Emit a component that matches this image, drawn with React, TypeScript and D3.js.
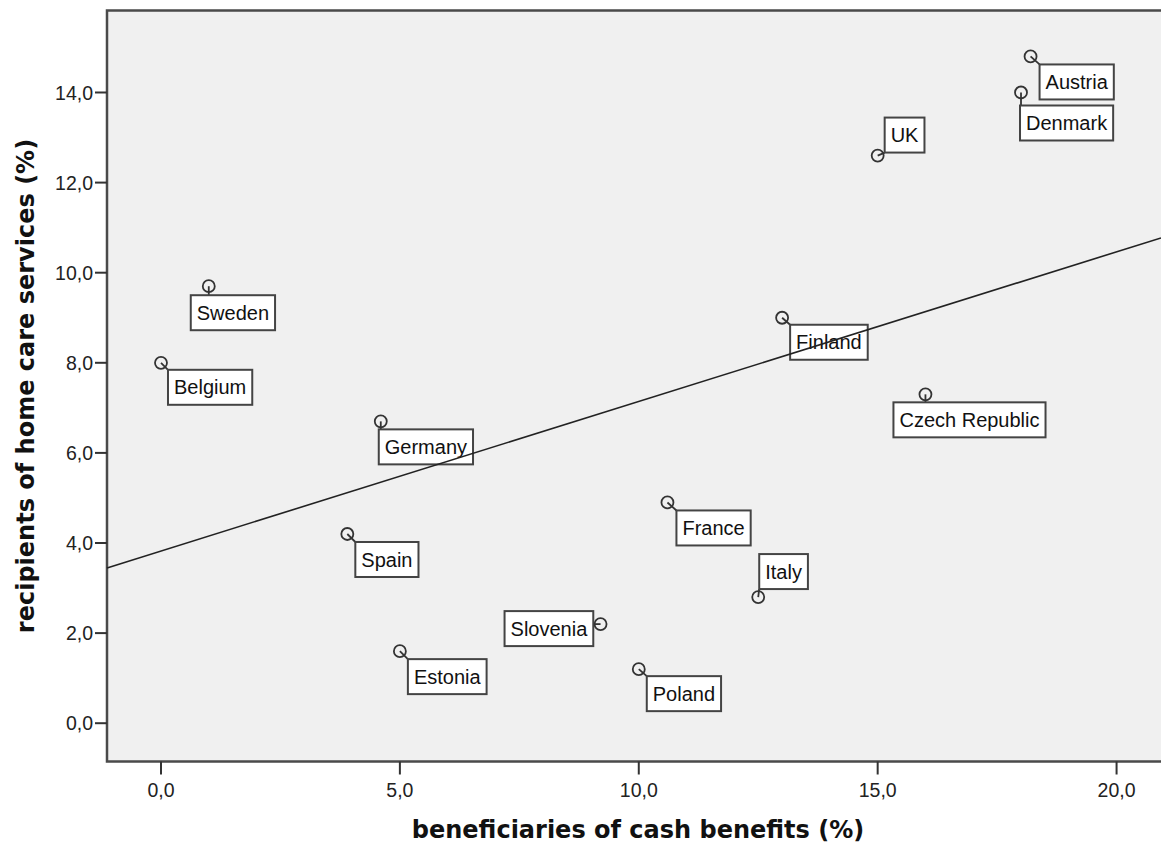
import React, { useEffect, useRef } from 'react';
import * as d3 from 'd3';

// values
const countries = ['Austria', 'Denmark', 'UK', 'Sweden', 'Finland', 'Belgium', 'Czech Republic', 'Germany', 'France', 'Spain', 'Italy', 'Slovenia', 'Estonia', 'Poland'];
const cashBenefits = [18.2, 18.0, 15.0, 1.0, 13.0, 0.0, 16.0, 4.6, 10.6, 3.9, 12.5, 9.2, 5.0, 10.0];
const homeCare = [14.8, 14.0, 12.6, 9.7, 9.0, 8.0, 7.3, 6.7, 4.9, 4.2, 2.8, 2.2, 1.6, 1.2];
const xTicks = [0, 5, 10, 15, 20];
const yTicks = [0, 2, 4, 6, 8, 10, 12, 14];

// label box placement (top-left corner offset from the marker, px)
const labelOffsets: [number, number][] = [
  [9, 8], [-1, 13], [7, -38], [-18, 9], [8, 7], [7, 7], [-32, 8],
  [-2, 8], [9, 8], [8, 8], [1, -43], [-96, -13], [8, 8], [8, 7],
];

const App = () => {
  const ref = useRef<SVGSVGElement>(null);

  useEffect(() => {
    const svg = d3.select(ref.current);
    svg.selectAll('*').remove();

    const W = 1161;
    const left = 107, top = 10.5, bottom = 761.5, right = W + 5;

    const x = d3.scaleLinear().domain([-1.13, 20.93]).range([left, W]);
    const y = d3.scaleLinear().domain([-0.85, 15.82]).range([bottom, top]);
    const fmt = (v: number) => d3.format('.1f')(v).replace('.', ',');

    const data = countries.map((name, i) => ({ name, cx: cashBenefits[i], hc: homeCare[i], off: labelOffsets[i] }));

    // least-squares fit line
    const mx = d3.mean(data, d => d.cx)!;
    const my = d3.mean(data, d => d.hc)!;
    const slope = d3.sum(data, d => (d.cx - mx) * (d.hc - my)) / d3.sum(data, d => (d.cx - mx) ** 2);
    const icpt = my - slope * mx;

    svg.append('rect')
      .attr('x', left).attr('y', top)
      .attr('width', right - left).attr('height', bottom - top)
      .attr('fill', '#f0f0f0')
      .attr('stroke', '#4a4a4a').attr('stroke-width', 2.5);

    // y axis
    const ya = svg.append('g');
    yTicks.forEach(t => {
      ya.append('line').attr('x1', left - 12).attr('x2', left).attr('y1', y(t)).attr('y2', y(t))
        .attr('stroke', '#333').attr('stroke-width', 2);
      ya.append('text').attr('x', left - 14).attr('y', y(t)).attr('dy', '0.36em')
        .attr('text-anchor', 'end')
        .style('font-family', '"Liberation Sans", Arial, sans-serif').style('font-size', '19.5px')
        .attr('fill', '#222').text(fmt(t));
    });

    // x axis
    const xa = svg.append('g');
    xTicks.forEach(t => {
      xa.append('line').attr('x1', x(t)).attr('x2', x(t)).attr('y1', bottom).attr('y2', bottom + 13)
        .attr('stroke', '#333').attr('stroke-width', 2);
      xa.append('text').attr('x', x(t)).attr('y', bottom + 28).attr('dy', '0.36em')
        .attr('text-anchor', 'middle')
        .style('font-family', '"Liberation Sans", Arial, sans-serif').style('font-size', '19.5px')
        .attr('fill', '#222').text(fmt(t));
    });

    // axis titles
    svg.append('text')
      .attr('x', 638).attr('y', 838)
      .attr('text-anchor', 'middle')
      .style('font-family', '"DejaVu Sans", Verdana, sans-serif').style('font-size', '24px').style('font-weight', 'bold')
      .attr('fill', '#111')
      .text('beneficiaries of cash benefits (%)');

    svg.append('text')
      .attr('transform', 'translate(34,386) rotate(-90)')
      .attr('text-anchor', 'middle')
      .style('font-family', '"DejaVu Sans", Verdana, sans-serif').style('font-size', '24px').style('font-weight', 'bold')
      .attr('fill', '#111')
      .text('recipients of home care services (%)');

    // labels with connectors
    const boxH = 35, pad = 6;
    const lab = svg.append('g');
    data.forEach(d => {
      const px = x(d.cx), py = y(d.hc);
      const g = lab.append('g');
      const txt = g.append('text')
        .style('font-family', '"Liberation Sans", Arial, sans-serif').style('font-size', '20px')
        .attr('fill', '#111').text(d.name);
      const tw = (txt.node() as SVGTextElement).getComputedTextLength();
      const bw = tw + pad * 2;
      const bx = px + d.off[0], by = py + d.off[1];
      // nearest point of the box to the marker
      const nx = Math.max(bx, Math.min(px, bx + bw));
      const ny = Math.max(by, Math.min(py, by + boxH));
      g.insert('line', 'text').attr('x1', px).attr('y1', py).attr('x2', nx).attr('y2', ny)
        .attr('stroke', '#333').attr('stroke-width', 1.8);
      g.insert('rect', 'text').attr('x', bx).attr('y', by).attr('width', bw).attr('height', boxH)
        .attr('fill', '#fff').attr('stroke', '#444').attr('stroke-width', 2);
      txt.attr('x', bx + bw / 2).attr('y', by + boxH / 2).attr('dy', '0.36em').attr('text-anchor', 'middle');
    });

    // fit line
    svg.append('line')
      .attr('x1', x(-1.13)).attr('y1', y(icpt + slope * -1.13))
      .attr('x2', x(20.93)).attr('y2', y(icpt + slope * 20.93))
      .attr('stroke', '#222').attr('stroke-width', 1.6);

    // markers
    svg.append('g').selectAll('circle')
      .data(data)
      .enter()
      .append('circle')
      .attr('cx', d => x(d.cx))
      .attr('cy', d => y(d.hc))
      .attr('r', 6)
      .attr('fill', 'none')
      .attr('stroke', '#333')
      .attr('stroke-width', 1.8);
  }, []);

  return (
    <div style={{ position: 'absolute', top: 0, left: 0, background: '#fff' }}>
      <svg ref={ref} width={1161} height={848} style={{ display: 'block' }} />
    </div>
  );
};

export default App;
